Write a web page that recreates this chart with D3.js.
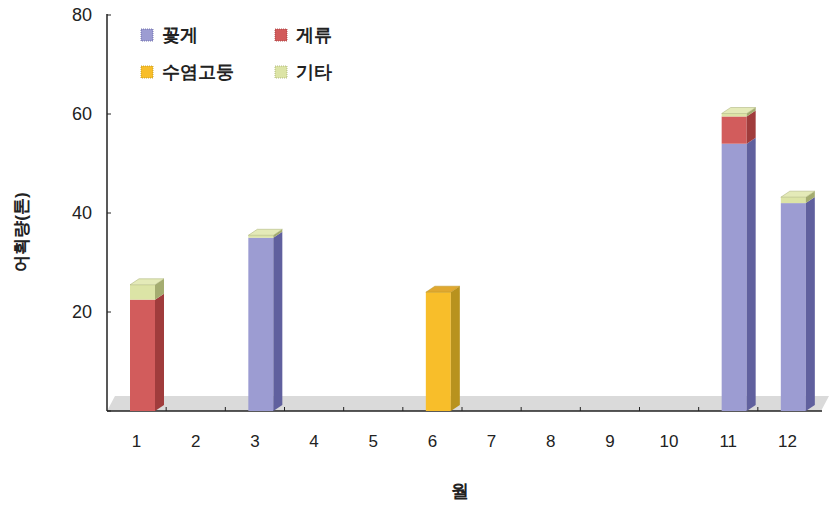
<!DOCTYPE html>
<html><head><meta charset="utf-8">
<script src="https://cdn.jsdelivr.net/npm/d3@7"></script>
<style>body{margin:0;background:#fff}svg{display:block}text{font-family:"Liberation Sans",Arial,sans-serif}</style>
</head><body><svg id="c" width="830" height="506"></svg>
<script>
const months = ["1","2","3","4","5","6","7","8","9","10","11","12"];
const seriesNames = ["꽃게","게류","수염고둥","기타"];
const crab = [0,0,35,0,0,0,0,0,0,0,54,42];
const crabs2 = [22.5,0,0,0,0,0,0,0,0,0,5.5,0];
const whelk = [0,0,0,0,0,24,0,0,0,0,0,0];
const other = [3,0,0.5,0,0,0,0,0,0,0,0.6,1.2];
const yTicks = [20,40,60,80];
const colors = {"꽃게":["#9c9cd2","#60609e","#b4b4e0"],"게류":["#d25c5c","#a03c3c","#e08080"],"수염고둥":["#f8be2a","#b8921e","#e0a830"],"기타":["#dce4a6","#a4ac70","#e4eab8"]};
const seriesVals = {"꽃게":crab,"게류":crabs2,"수염고둥":whelk,"기타":other};

const svg = d3.select("#c");
const x = d3.scaleBand().domain(months).range([107,817]);
const y = d3.scaleLinear().domain([0,80]).range([411,15]);
const dx = 9, dy = 6;

// floor
svg.append("polygon").attr("points",[[107,411],[821,411],[829,396],[115,396]].map(p=>p.join(",")).join(" "))
  .attr("fill","#dadada");

// axes
svg.append("line").attr("x1",107).attr("x2",107).attr("y1",14).attr("y2",411).attr("stroke","#222").attr("stroke-width",1.5);
svg.append("line").attr("x1",107).attr("x2",822).attr("y1",411).attr("y2",411).attr("stroke","#222").attr("stroke-width",1.5);
svg.selectAll(".yt").data([0].concat(yTicks)).join("line").attr("x1",107).attr("x2",111)
  .attr("y1",d=>y(d)).attr("y2",d=>y(d)).attr("stroke","#222");
svg.selectAll(".ytl").data(yTicks).join("text").attr("x",92).attr("y",d=>y(d)).attr("dy","0.35em")
  .attr("text-anchor","end").attr("font-size",18).attr("fill","#222").text(d=>d);
svg.selectAll(".xt").data(months.slice(1)).join("line").attr("x1",d=>x(d)).attr("x2",d=>x(d))
  .attr("y1",411).attr("y2",407).attr("stroke","#222");
svg.selectAll(".xtl").data(months).join("text").attr("x",d=>x(d)+x.bandwidth()/2).attr("y",441).attr("dy","0.35em")
  .attr("text-anchor","middle").attr("font-size",17).attr("fill","#222").text(d=>d);

svg.append("text").attr("x",460).attr("y",497).attr("text-anchor","middle").attr("font-size",18).attr("font-weight","bold")
  .attr("font-family","Noto Sans CJK KR").attr("fill","#222").text("월");
svg.append("text").attr("transform","translate(27,232) rotate(-90)").attr("text-anchor","middle").attr("font-size",17)
  .attr("font-weight","bold").attr("font-family","Noto Sans CJK KR").attr("fill","#222").text("어획량(톤)");

// bars
const bw = 25;
months.forEach((m,i)=>{
  let base = 0;
  const x0 = x(m) + 23;
  const segs = [];
  seriesNames.forEach(s=>{
    const v = seriesVals[s][i];
    if (v>0){ segs.push({s,y0:base,y1:base+v}); base+=v; }
  });
  const g = svg.append("g");
  segs.forEach(sg=>{
    const c = colors[sg.s];
    const yt = y(sg.y1), yb = y(sg.y0);
    g.append("rect").attr("x",x0).attr("y",yt).attr("width",bw).attr("height",yb-yt).attr("fill",c[0]);
    g.append("polygon").attr("points",[[x0+bw,yb],[x0+bw+dx,yb-dy],[x0+bw+dx,yt-dy],[x0+bw,yt]].map(p=>p.join(",")).join(" "))
      .attr("fill",c[1]);
  });
  if (segs.length){
    const top = segs[segs.length-1];
    const c = colors[top.s];
    const yt = y(top.y1);
    g.append("polygon").attr("points",[[x0,yt],[x0+dx,yt-dy],[x0+bw+dx,yt-dy],[x0+bw,yt]].map(p=>p.join(",")).join(" "))
      .attr("fill",c[2]).attr("stroke",c[1]).attr("stroke-width",0.5);
  }
});

// legend
const legend = [{s:"꽃게",x:141,y:29},{s:"게류",x:275,y:29},{s:"수염고둥",x:141,y:66},{s:"기타",x:275,y:66}];
legend.forEach(l=>{
  svg.append("rect").attr("x",l.x).attr("y",l.y).attr("width",12).attr("height",12).attr("fill",colors[l.s][0])
    .attr("stroke",colors[l.s][1]).attr("stroke-width",0.8).attr("stroke-dasharray","1,1");
  svg.append("text").attr("x",l.x+21).attr("y",l.y+6).attr("dy","0.35em").attr("font-size",18).attr("font-weight","bold")
    .attr("font-family","Noto Sans CJK KR").attr("fill","#222").text(l.s);
});
</script></body></html>
